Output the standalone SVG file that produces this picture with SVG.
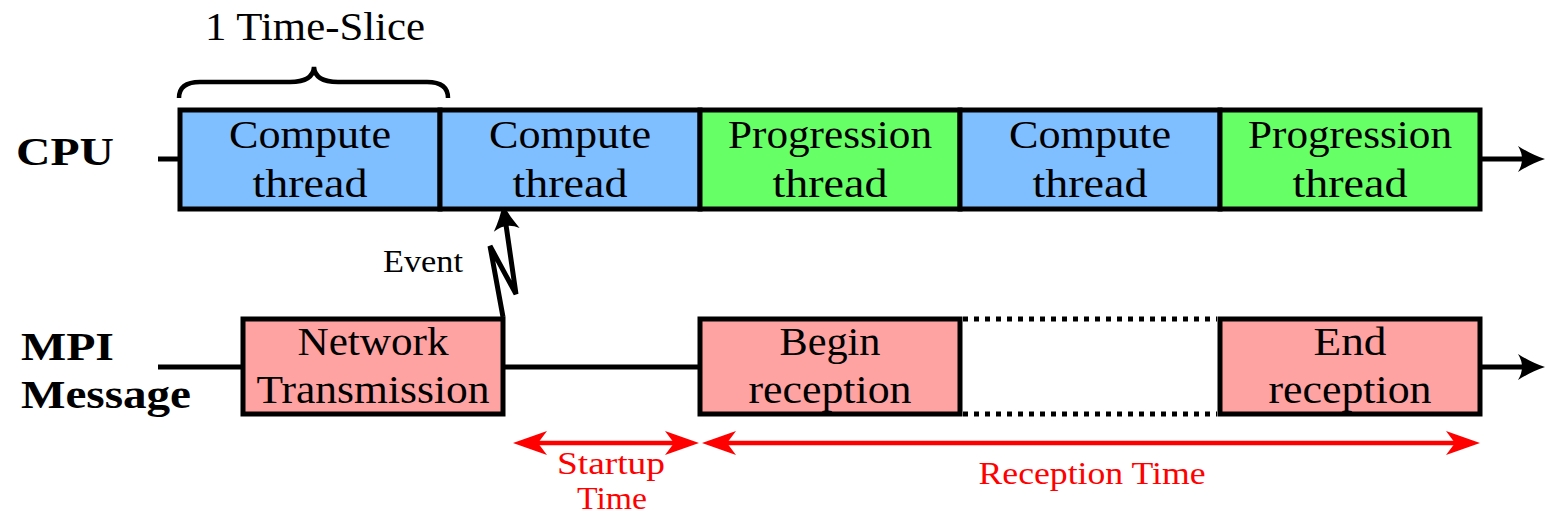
<svg xmlns="http://www.w3.org/2000/svg" width="1545" height="515" viewBox="0 0 1545 515">
  <style>
    .box { stroke: #000; stroke-width: 5; }
    .compute { fill: #80BFFF; }
    .progress { fill: #66FF66; }
    .msg { fill: #FFA2A2; }
    .lbl { font-family: "Liberation Serif", "DejaVu Serif", serif; font-size: 40.5px; fill: #000; text-anchor: middle; }
    .head { font-family: "Liberation Serif", "DejaVu Serif", serif; font-size: 40.5px; font-weight: bold; fill: #000; }
    .small { font-family: "Liberation Serif", "DejaVu Serif", serif; font-size: 31px; text-anchor: middle; }
    .red { fill: #FF0000; }
    .wire { stroke: #000; stroke-width: 5; fill: none; }
    .dots { stroke: #000; stroke-width: 5; fill: none; stroke-dasharray: 5 6; }
    .span { stroke: #FF0000; stroke-width: 4.5; fill: none; }
  </style>
  <defs>
    <!-- black curved arrow tip, tip point 12px beyond the line end -->
    <marker id="tip" markerUnits="userSpaceOnUse" viewBox="-16 -15 32 30" markerWidth="32" markerHeight="30" refX="0" refY="0" orient="auto" overflow="visible">
      <path d="M13,0 C3,-3 -6,-8 -14,-13 Q-6,0 -14,13 C-6,8 3,3 13,0 Z" fill="#000"/>
    </marker>
    <!-- red stealth tip used on both ends of the time spans -->
    <marker id="redtip" markerUnits="userSpaceOnUse" viewBox="-24 -13 38 26" markerWidth="38" markerHeight="26" refX="0" refY="0" orient="auto-start-reverse" overflow="visible">
      <path d="M12,0 L-22,-12 L-13,0 L-22,12 Z" fill="#FF0000"/>
    </marker>
  </defs>

  <!-- row titles -->
  <g id="label-cpu">
    <text class="head" x="16" y="165" textLength="98" lengthAdjust="spacingAndGlyphs">CPU</text>
  </g>
  <g id="label-mpi">
    <text class="head" x="21" y="360" textLength="93" lengthAdjust="spacingAndGlyphs">MPI</text>
    <text class="head" x="21" y="408" textLength="170" lengthAdjust="spacingAndGlyphs">Message</text>
  </g>

  <!-- connectors: timelines, event, spans -->
  <g id="connectors">
    <line class="wire" x1="158" y1="159" x2="180" y2="159"/>
    <line class="wire" x1="1480" y1="159" x2="1532" y2="159" marker-end="url(#tip)"/>
    <line class="wire" x1="158" y1="367" x2="243" y2="367"/>
    <line class="wire" x1="503" y1="367" x2="700" y2="367"/>
    <line class="wire" x1="1480" y1="367" x2="1532" y2="367" marker-end="url(#tip)"/>
    <line class="dots" x1="963" y1="319" x2="1217" y2="319"/>
    <line class="dots" x1="963" y1="414" x2="1217" y2="414"/>
    <polyline class="wire" stroke-width="4.5" stroke-linejoin="miter" points="503,317 490,246 516,294 504.7,216" marker-end="url(#tip)"/>
    <line class="span" x1="525" y1="443" x2="687" y2="443" marker-start="url(#redtip)" marker-end="url(#redtip)"/>
    <line class="span" x1="714" y1="443" x2="1468" y2="443" marker-start="url(#redtip)" marker-end="url(#redtip)"/>
  </g>

  <!-- time-slice brace -->
  <g id="time-slice">
    <path d="M179,98 Q179,82 200,82 L290,82 Q313,82 314,67 Q315,82 338,82 L427,82 Q448,82 448,98" fill="none" stroke="#000" stroke-width="4.5"/>
    <text class="lbl" x="315" y="40" textLength="220" lengthAdjust="spacingAndGlyphs">1 Time-Slice</text>
  </g>

  <!-- CPU schedule -->
  <g id="cpu-1">
    <rect class="box compute" x="180" y="110" width="260" height="99"/>
    <text class="lbl" x="310" y="148" textLength="162" lengthAdjust="spacingAndGlyphs">Compute</text>
    <text class="lbl" x="310" y="197" textLength="115" lengthAdjust="spacingAndGlyphs">thread</text>
  </g>
  <g id="cpu-2">
    <rect class="box compute" x="440" y="110" width="260" height="99"/>
    <text class="lbl" x="570" y="148" textLength="162" lengthAdjust="spacingAndGlyphs">Compute</text>
    <text class="lbl" x="570" y="197" textLength="115" lengthAdjust="spacingAndGlyphs">thread</text>
  </g>
  <g id="cpu-3">
    <rect class="box progress" x="700" y="110" width="260" height="99"/>
    <text class="lbl" x="830" y="148" textLength="204" lengthAdjust="spacingAndGlyphs">Progression</text>
    <text class="lbl" x="830" y="197" textLength="115" lengthAdjust="spacingAndGlyphs">thread</text>
  </g>
  <g id="cpu-4">
    <rect class="box compute" x="960" y="110" width="260" height="99"/>
    <text class="lbl" x="1090" y="148" textLength="162" lengthAdjust="spacingAndGlyphs">Compute</text>
    <text class="lbl" x="1090" y="197" textLength="115" lengthAdjust="spacingAndGlyphs">thread</text>
  </g>
  <g id="cpu-5">
    <rect class="box progress" x="1220" y="110" width="260" height="99"/>
    <text class="lbl" x="1350" y="148" textLength="204" lengthAdjust="spacingAndGlyphs">Progression</text>
    <text class="lbl" x="1350" y="197" textLength="115" lengthAdjust="spacingAndGlyphs">thread</text>
  </g>

  <!-- message phases -->
  <g id="network-transmission">
    <rect class="box msg" x="243" y="319" width="260" height="95"/>
    <text class="lbl" x="373" y="355" textLength="151" lengthAdjust="spacingAndGlyphs">Network</text>
    <text class="lbl" x="373" y="403" textLength="233" lengthAdjust="spacingAndGlyphs">Transmission</text>
  </g>
  <g id="begin-reception">
    <rect class="box msg" x="700" y="319" width="260" height="95"/>
    <text class="lbl" x="830" y="355" textLength="101" lengthAdjust="spacingAndGlyphs">Begin</text>
    <text class="lbl" x="830" y="403" textLength="163" lengthAdjust="spacingAndGlyphs">reception</text>
  </g>
  <g id="end-reception">
    <rect class="box msg" x="1220" y="319" width="260" height="95"/>
    <text class="lbl" x="1350" y="355" textLength="73" lengthAdjust="spacingAndGlyphs">End</text>
    <text class="lbl" x="1350" y="403" textLength="163" lengthAdjust="spacingAndGlyphs">reception</text>
  </g>

  <!-- annotations -->
  <g id="event-label">
    <text class="small" x="423" y="272" textLength="80" lengthAdjust="spacingAndGlyphs">Event</text>
  </g>
  <g id="startup-time">
    <text class="small red" x="611" y="474" textLength="108" lengthAdjust="spacingAndGlyphs">Startup</text>
    <text class="small red" x="612" y="509" textLength="70" lengthAdjust="spacingAndGlyphs">Time</text>
  </g>
  <g id="reception-time">
    <text class="small red" x="1092" y="484" textLength="227" lengthAdjust="spacingAndGlyphs">Reception Time</text>
  </g>
</svg>
